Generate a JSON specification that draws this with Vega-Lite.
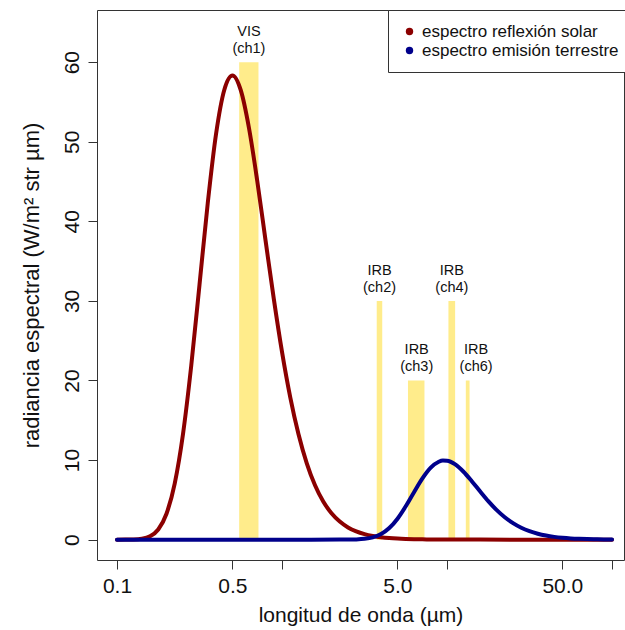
{
  "$schema": "https://vega.github.io/schema/vega-lite/v6.json",
  "width": 527,
  "height": 550,
  "autosize": {"type": "none"},
  "padding": {"left": 97, "top": 10, "right": 1, "bottom": 70},
  "background": "white",
  "config": {
    "font": "Liberation Sans",
    "view": {"stroke": "#333", "strokeWidth": 1},
    "axis": {"grid": false, "domain": false, "tickColor": "#333", "tickWidth": 1, "labelColor": "#111", "titleColor": "#111", "titleFontWeight": "normal"}
  },
  "datasets": {
    "bandas": [
      {"canal": "ch1", "x1": 0.55, "x2": 0.72, "h": 60, "lx": 0.63, "lab": "VIS\n(ch1)"},
      {"canal": "ch2", "x1": 3.75, "x2": 4.05, "h": 30, "lx": 3.9, "lab": "IRB\n(ch2)"},
      {"canal": "ch3", "x1": 5.8, "x2": 7.3, "h": 20, "lx": 6.55, "lab": "IRB\n(ch3)"},
      {"canal": "ch4", "x1": 10.2, "x2": 11.2, "h": 30, "lx": 10.7, "lab": "IRB\n(ch4)"},
      {"canal": "ch6", "x1": 13.0, "x2": 13.7, "h": 20, "lx": 15.0, "lab": "IRB\n(ch6)"}
    ],
    "curvas": [
      {"serie": "espectro reflexión solar", "lam": 0.1, "rad": 0},
      {"serie": "espectro reflexión solar", "lam": 0.1122, "rad": 0.004},
      {"serie": "espectro reflexión solar", "lam": 0.1259, "rad": 0.023},
      {"serie": "espectro reflexión solar", "lam": 0.1413, "rad": 0.108},
      {"serie": "espectro reflexión solar", "lam": 0.1585, "rad": 0.412},
      {"serie": "espectro reflexión solar", "lam": 0.1778, "rad": 1.271},
      {"serie": "espectro reflexión solar", "lam": 0.1995, "rad": 3.257},
      {"serie": "espectro reflexión solar", "lam": 0.2239, "rad": 7.079},
      {"serie": "espectro reflexión solar", "lam": 0.2512, "rad": 13.28},
      {"serie": "espectro reflexión solar", "lam": 0.2818, "rad": 21.87},
      {"serie": "espectro reflexión solar", "lam": 0.3162, "rad": 32.03},
      {"serie": "espectro reflexión solar", "lam": 0.3548, "rad": 42.29},
      {"serie": "espectro reflexión solar", "lam": 0.3981, "rad": 50.94},
      {"serie": "espectro reflexión solar", "lam": 0.4467, "rad": 56.51},
      {"serie": "espectro reflexión solar", "lam": 0.5012, "rad": 58.33},
      {"serie": "espectro reflexión solar", "lam": 0.5623, "rad": 56.48},
      {"serie": "espectro reflexión solar", "lam": 0.631, "rad": 51.7},
      {"serie": "espectro reflexión solar", "lam": 0.7079, "rad": 45.07},
      {"serie": "espectro reflexión solar", "lam": 0.7943, "rad": 37.64},
      {"serie": "espectro reflexión solar", "lam": 0.8913, "rad": 30.29},
      {"serie": "espectro reflexión solar", "lam": 1.0, "rad": 23.6},
      {"serie": "espectro reflexión solar", "lam": 1.122, "rad": 17.89},
      {"serie": "espectro reflexión solar", "lam": 1.259, "rad": 13.24},
      {"serie": "espectro reflexión solar", "lam": 1.413, "rad": 9.594},
      {"serie": "espectro reflexión solar", "lam": 1.585, "rad": 6.831},
      {"serie": "espectro reflexión solar", "lam": 1.778, "rad": 4.789},
      {"serie": "espectro reflexión solar", "lam": 1.995, "rad": 3.313},
      {"serie": "espectro reflexión solar", "lam": 2.239, "rad": 2.266},
      {"serie": "espectro reflexión solar", "lam": 2.512, "rad": 1.534},
      {"serie": "espectro reflexión solar", "lam": 2.818, "rad": 1.03},
      {"serie": "espectro reflexión solar", "lam": 3.162, "rad": 0.686},
      {"serie": "espectro reflexión solar", "lam": 3.548, "rad": 0.454},
      {"serie": "espectro reflexión solar", "lam": 3.981, "rad": 0.299},
      {"serie": "espectro reflexión solar", "lam": 4.467, "rad": 0.196},
      {"serie": "espectro reflexión solar", "lam": 5.012, "rad": 0.128},
      {"serie": "espectro reflexión solar", "lam": 5.623, "rad": 0.083},
      {"serie": "espectro reflexión solar", "lam": 6.31, "rad": 0.054},
      {"serie": "espectro reflexión solar", "lam": 7.079, "rad": 0.035},
      {"serie": "espectro reflexión solar", "lam": 7.943, "rad": 0.022},
      {"serie": "espectro reflexión solar", "lam": 8.913, "rad": 0.014},
      {"serie": "espectro reflexión solar", "lam": 10.0, "rad": 0.009},
      {"serie": "espectro reflexión solar", "lam": 15.85, "rad": 0.002},
      {"serie": "espectro reflexión solar", "lam": 25.12, "rad": 0},
      {"serie": "espectro reflexión solar", "lam": 100, "rad": 0},
      {"serie": "espectro emisión terrestre", "lam": 0.1, "rad": 0},
      {"serie": "espectro emisión terrestre", "lam": 1.0, "rad": 0},
      {"serie": "espectro emisión terrestre", "lam": 2.239, "rad": 0.001},
      {"serie": "espectro emisión terrestre", "lam": 2.512, "rad": 0.006},
      {"serie": "espectro emisión terrestre", "lam": 2.818, "rad": 0.027},
      {"serie": "espectro emisión terrestre", "lam": 3.162, "rad": 0.098},
      {"serie": "espectro emisión terrestre", "lam": 3.548, "rad": 0.286},
      {"serie": "espectro emisión terrestre", "lam": 3.981, "rad": 0.698},
      {"serie": "espectro emisión terrestre", "lam": 4.467, "rad": 1.455},
      {"serie": "espectro emisión terrestre", "lam": 5.012, "rad": 2.631},
      {"serie": "espectro emisión terrestre", "lam": 5.623, "rad": 4.188},
      {"serie": "espectro emisión terrestre", "lam": 6.31, "rad": 5.957},
      {"serie": "espectro emisión terrestre", "lam": 7.079, "rad": 7.661},
      {"serie": "espectro emisión terrestre", "lam": 7.943, "rad": 9.011},
      {"serie": "espectro emisión terrestre", "lam": 8.913, "rad": 9.792},
      {"serie": "espectro emisión terrestre", "lam": 9.441, "rad": 9.939},
      {"serie": "espectro emisión terrestre", "lam": 10.0, "rad": 9.924},
      {"serie": "espectro emisión terrestre", "lam": 11.22, "rad": 9.454},
      {"serie": "espectro emisión terrestre", "lam": 12.59, "rad": 8.533},
      {"serie": "espectro emisión terrestre", "lam": 14.13, "rad": 7.347},
      {"serie": "espectro emisión terrestre", "lam": 15.85, "rad": 6.072},
      {"serie": "espectro emisión terrestre", "lam": 17.78, "rad": 4.841},
      {"serie": "espectro emisión terrestre", "lam": 19.95, "rad": 3.742},
      {"serie": "espectro emisión terrestre", "lam": 22.39, "rad": 2.817},
      {"serie": "espectro emisión terrestre", "lam": 25.12, "rad": 2.072},
      {"serie": "espectro emisión terrestre", "lam": 28.18, "rad": 1.494},
      {"serie": "espectro emisión terrestre", "lam": 31.62, "rad": 1.059},
      {"serie": "espectro emisión terrestre", "lam": 35.48, "rad": 0.74},
      {"serie": "espectro emisión terrestre", "lam": 39.81, "rad": 0.51},
      {"serie": "espectro emisión terrestre", "lam": 44.67, "rad": 0.348},
      {"serie": "espectro emisión terrestre", "lam": 50.12, "rad": 0.235},
      {"serie": "espectro emisión terrestre", "lam": 56.23, "rad": 0.157},
      {"serie": "espectro emisión terrestre", "lam": 63.1, "rad": 0.105},
      {"serie": "espectro emisión terrestre", "lam": 70.79, "rad": 0.069},
      {"serie": "espectro emisión terrestre", "lam": 79.43, "rad": 0.045},
      {"serie": "espectro emisión terrestre", "lam": 89.13, "rad": 0.03},
      {"serie": "espectro emisión terrestre", "lam": 100, "rad": 0.019}
    ]
  },
  "layer": [
    {
      "data": {"name": "bandas"},
      "mark": {"type": "rect", "color": "#FFEC8B"},
      "encoding": {
        "x": {"field": "x1", "type": "quantitative", "title": "longitud de onda (µm)",
              "scale": {"type": "log", "domain": [0.07564, 118.2], "nice": false, "zero": false}},
        "x2": {"field": "x2", "title": "longitud de onda (µm)"},
        "y": {"field": "h", "type": "quantitative", "title": "radiancia espectral (W/m² str µm)",
              "scale": {"domain": [-2.56, 66.56], "nice": false, "zero": false}},
        "y2": {"datum": 0}
      }
    },
    {
      "data": {"name": "curvas"},
      "mark": {"type": "line", "strokeWidth": 4, "strokeCap": "round", "strokeJoin": "round", "interpolate": "monotone"},
      "encoding": {
        "x": {"field": "lam", "type": "quantitative", "title": "longitud de onda (µm)",
              "axis": {"values": [0.1, 0.5, 1, 5, 10, 50, 100],
                       "labelExpr": "datum.value == 0.1 ? '0.1' : datum.value == 0.5 ? '0.5' : datum.value == 5 ? '5.0' : datum.value == 50 ? '50.0' : ''",
                       "tickSize": 9, "labelFontSize": 21, "labelPadding": 6, "labelFlush": false, "labelOverlap": false,
                       "titleFontSize": 21, "titlePadding": 8}},
        "y": {"field": "rad", "type": "quantitative", "title": "radiancia espectral (W/m² str µm)",
              "axis": {"values": [0, 10, 20, 30, 40, 50, 60], "tickSize": 9, "labelFontSize": 21,
                       "labelAngle": -90, "labelAlign": "center", "labelBaseline": "alphabetic", "labelPadding": 10,
                       "titleFontSize": 22, "titlePadding": 18}},
        "color": {"field": "serie", "type": "nominal",
                  "scale": {"domain": ["espectro reflexión solar", "espectro emisión terrestre"], "range": ["#8B0000", "#00008B"]},
                  "legend": {"title": null, "orient": "none", "legendX": 291, "legendY": 0, "padding": 13,
                             "strokeColor": "#333", "fillColor": "white", "labelFontSize": 17, "labelColor": "#111", "labelLimit": 400,
                             "symbolType": "circle", "symbolSize": 55, "symbolStrokeWidth": 0, "labelOffset": 4, "rowPadding": 1,
                             "encode": {"symbols": {"update": {"fill": {"scale": "color", "field": "value"}, "opacity": {"value": 1}}}}}}
      }
    },
    {
      "data": {"name": "bandas"},
      "mark": {"type": "text", "baseline": "bottom", "align": "center", "dy": -23, "fontSize": 14.5, "lineBreak": "\n", "lineHeight": 17, "color": "#111"},
      "encoding": {
        "x": {"field": "lx", "type": "quantitative", "title": "longitud de onda (µm)"},
        "y": {"field": "h", "type": "quantitative", "title": "radiancia espectral (W/m² str µm)"},
        "text": {"field": "lab"}
      }
    }
  ]
}
